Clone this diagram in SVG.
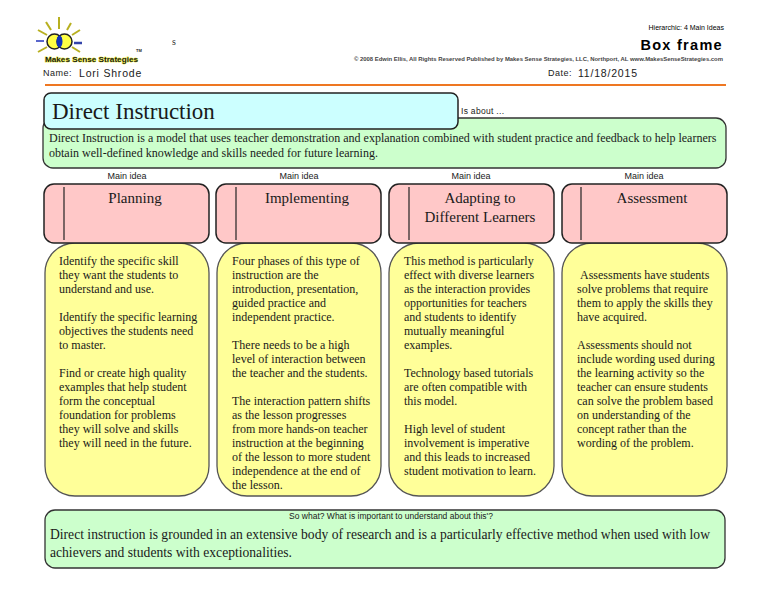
<svg xmlns="http://www.w3.org/2000/svg" width="768" height="594" viewBox="0 0 768 594">
<style>
text{font-family:"Liberation Sans",Arial,sans-serif;fill:#1a1a1a}
.s{font-family:"Liberation Serif","Times New Roman",serif}
.b{font-size:12px;font-family:"Liberation Serif","Times New Roman",serif}
.h{font-size:15px;font-family:"Liberation Serif","Times New Roman",serif;text-anchor:middle}
.m{font-size:9px;text-anchor:middle}
.hd{fill:#ffc8c8;stroke:#222;stroke-width:1.5}
.yl{fill:#ffff99;stroke:#555;stroke-width:1.300}
.gr{fill:#ccffcc;stroke:#333;stroke-width:1.3}
.ray{stroke:#b8b020;stroke-width:2}
</style>
<rect width="768" height="594" fill="#fff"/>
<g id="logo">
<line class="ray" x1="59" y1="29" x2="59" y2="17"/>
<line class="ray" x1="51" y1="30" x2="46" y2="22"/>
<line class="ray" x1="67" y1="30" x2="71" y2="23"/>
<line class="ray" x1="47" y1="35" x2="38" y2="30"/>
<line class="ray" x1="72" y1="35" x2="80" y2="30"/>
<line x1="36" y1="41" x2="44" y2="41" stroke="#2233bb" stroke-width="1.5"/>
<line x1="74" y1="43" x2="82" y2="43" stroke="#3344aa" stroke-width="2.5"/>
<line class="ray" x1="47" y1="47" x2="38" y2="52"/>
<line class="ray" x1="72" y1="47" x2="80" y2="52"/>
<circle cx="54.500" cy="41.500" r="7.500" fill="#ffff44" stroke="#222" stroke-width="1.500"/>
<circle cx="64.500" cy="41.500" r="7.500" fill="#ffff44" stroke="#222" stroke-width="1.500"/>
<ellipse cx="59.500" cy="41.500" rx="3" ry="6" fill="#1133bb"/>
<text x="45" y="62" font-size="8" font-weight="bold" textLength="93" lengthAdjust="spacingAndGlyphs" stroke="#eeee33" stroke-width="0.800" paint-order="stroke">Makes Sense Strategies</text>
<text x="136" y="52" font-size="4" font-weight="bold">TM</text>
</g>
<g id="header">
<text class="s" x="172" y="45" font-size="10" style="fill:#333">s</text>
<text x="43" y="76" font-size="9" letter-spacing="0.5">Name:</text>
<text x="79" y="77" font-size="10.500" letter-spacing="0.8">Lori Shrode</text>
<text x="724" y="30" font-size="7" text-anchor="end" style="fill:#000">Hierarchic: 4 Main Ideas</text>
<text x="723" y="50" font-size="14.500" font-weight="bold" text-anchor="end" letter-spacing="1.300" style="fill:#000">Box frame</text>
<text x="354" y="61" font-size="5" font-weight="bold" textLength="369" lengthAdjust="spacingAndGlyphs" style="fill:#444">© 2008 Edwin Ellis, All Rights Reserved   Published by Makes Sense Strategies, LLC, Northport, AL   www.MakesSenseStrategies.com</text>
<text x="548" y="76" font-size="9" letter-spacing="0.5">Date:</text>
<text x="578" y="77" font-size="10.500" letter-spacing="0.8">11/18/2015</text>
<line x1="45" y1="85" x2="726" y2="85" stroke="#ee7722" stroke-width="2"/>
</g>
<g id="about">
<rect class="gr" x="43" y="118" width="683" height="50" rx="10"/>
<text x="461" y="114" font-size="8.500" letter-spacing="0.3">Is about ...</text>
<text class="b" x="49" y="142">Direct Instruction is a model that uses teacher demonstration and explanation combined with student practice and feedback to help learners</text>
<text class="b" x="49" y="157">obtain well-defined knowledge and skills needed for future learning.</text>
</g>
<g id="title">
<rect x="44" y="93" width="414" height="36" rx="7" fill="#ccffff" stroke="#222" stroke-width="1.500"/>
<text class="s" x="52" y="119" font-size="23">Direct Instruction</text>
</g>
<g id="planning">
<text class="m" x="127" y="179">Main idea</text>
<rect class="yl" x="45" y="243" width="164" height="253" rx="30"/>
<rect class="hd" x="44" y="184" width="165" height="59" rx="10"/>
<line x1="64" y1="187" x2="64" y2="240" stroke="#222" stroke-width="1.200"/>
<text class="h" x="135" y="203">Planning</text>
<text class="b"><tspan x="59" y="265">Identify the specific skill</tspan><tspan x="59" y="279">they want the students to</tspan><tspan x="59" y="293">understand and use.</tspan><tspan x="59" y="321">Identify the specific learning</tspan><tspan x="59" y="335">objectives the students need</tspan><tspan x="59" y="349">to master.</tspan><tspan x="59" y="377">Find or create high quality</tspan><tspan x="59" y="391">examples that help student</tspan><tspan x="59" y="405">form the conceptual</tspan><tspan x="59" y="419">foundation for problems</tspan><tspan x="59" y="433">they will solve and skills</tspan><tspan x="59" y="447">they will need in the future.</tspan></text>
</g>
<g id="implementing">
<text class="m" x="299" y="179">Main idea</text>
<rect class="yl" x="217" y="243" width="164" height="253" rx="30"/>
<rect class="hd" x="216" y="184" width="165" height="59" rx="10"/>
<line x1="236" y1="187" x2="236" y2="240" stroke="#222" stroke-width="1.200"/>
<text class="h" x="307" y="203">Implementing</text>
<text class="b"><tspan x="232" y="265">Four phases of this type of</tspan><tspan x="232" y="279">instruction are the</tspan><tspan x="232" y="293">introduction, presentation,</tspan><tspan x="232" y="307">guided practice and</tspan><tspan x="232" y="321">independent practice.</tspan><tspan x="232" y="349">There needs to be a high</tspan><tspan x="232" y="363">level of interaction between</tspan><tspan x="232" y="377">the teacher and the students.</tspan><tspan x="232" y="405">The interaction pattern shifts</tspan><tspan x="232" y="419">as the lesson progresses</tspan><tspan x="232" y="433">from more hands-on teacher</tspan><tspan x="232" y="447">instruction at the beginning</tspan><tspan x="232" y="461">of the lesson to more student</tspan><tspan x="232" y="475">independence at the end of</tspan><tspan x="232" y="489">the lesson.</tspan></text>
</g>
<g id="adapting">
<text class="m" x="471" y="179">Main idea</text>
<rect class="yl" x="389" y="243" width="165" height="253" rx="30"/>
<rect class="hd" x="389" y="184" width="165" height="59" rx="10"/>
<line x1="409" y1="187" x2="409" y2="240" stroke="#222" stroke-width="1.200"/>
<text class="h" x="480" y="203">Adapting to</text>
<text class="h" x="480" y="222">Different Learners</text>
<text class="b"><tspan x="404" y="265">This method is particularly</tspan><tspan x="404" y="279">effect with diverse learners</tspan><tspan x="404" y="293">as the interaction provides</tspan><tspan x="404" y="307">opportunities for teachers</tspan><tspan x="404" y="321">and students to identify</tspan><tspan x="404" y="335">mutually meaningful</tspan><tspan x="404" y="349">examples.</tspan><tspan x="404" y="377">Technology based tutorials</tspan><tspan x="404" y="391">are often compatible with</tspan><tspan x="404" y="405">this model.</tspan><tspan x="404" y="433">High level of student</tspan><tspan x="404" y="447">involvement is imperative</tspan><tspan x="404" y="461">and this leads to increased</tspan><tspan x="404" y="475">student motivation to learn.</tspan></text>
</g>
<g id="assessment">
<text class="m" x="644" y="179">Main idea</text>
<rect class="yl" x="562" y="243" width="165" height="253" rx="30"/>
<rect class="hd" x="562" y="184" width="165" height="59" rx="10"/>
<line x1="581" y1="187" x2="581" y2="240" stroke="#222" stroke-width="1.200"/>
<text class="h" x="652" y="203">Assessment</text>
<text class="b"><tspan x="580" y="279">Assessments have students</tspan><tspan x="577" y="293">solve problems that require</tspan><tspan x="577" y="307">them to apply the skills they</tspan><tspan x="577" y="321">have acquired.</tspan><tspan x="577" y="349">Assessments should not</tspan><tspan x="577" y="363">include wording used during</tspan><tspan x="577" y="377">the learning activity so the</tspan><tspan x="577" y="391">teacher can ensure students</tspan><tspan x="577" y="405">can solve the problem based</tspan><tspan x="577" y="419">on understanding of the</tspan><tspan x="577" y="433">concept rather than the</tspan><tspan x="577" y="447">wording of the problem.</tspan></text>
</g>
<g id="sowhat">
<rect class="gr" x="45" y="510" width="680" height="58" rx="10"/>
<text x="391" y="519" font-size="8.500" text-anchor="middle">So what? What is important to understand about this'?</text>
<text class="s" x="50" y="539" font-size="13.600">Direct instruction is grounded in an extensive body of research and is a particularly effective method when used with low</text>
<text class="s" x="50" y="557" font-size="13.600">achievers and students with exceptionalities.</text>
</g>
<g id="connectors"></g>
</svg>
